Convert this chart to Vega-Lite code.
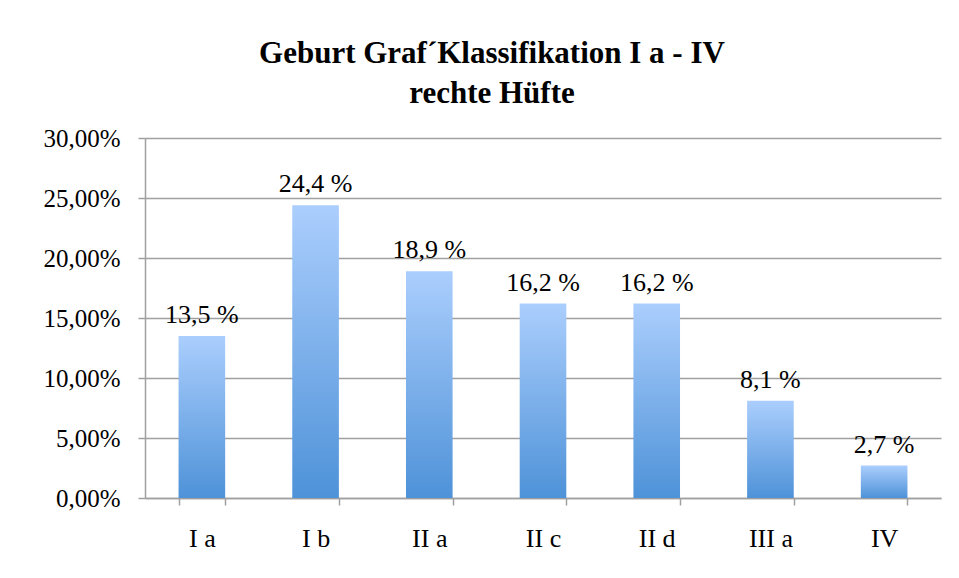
{
  "$schema": "https://vega.github.io/schema/vega-lite/v6.json",
  "width": 796,
  "height": 360,
  "autosize": {"type": "none"},
  "padding": {"left": 145, "top": 138, "right": 18, "bottom": 80},
  "background": "white",
  "config": {
    "locale": {"number": {"decimal": ",", "thousands": ".", "grouping": [3], "currency": ["", " €"]}},
    "font": "Liberation Serif",
    "view": {"stroke": null}
  },
  "title": {
    "text": ["Geburt Graf´Klassifikation I a - IV", "rechte Hüfte"],
    "font": "Liberation Serif",
    "fontSize": 31,
    "fontWeight": "bold",
    "color": "black",
    "lineHeight": 40,
    "anchor": "middle",
    "frame": "bounds",
    "offset": 16
  },
  "data": {
    "values": [
      {"klasse": "I a", "anteil": 0.135, "label": "13,5 %"},
      {"klasse": "I b", "anteil": 0.244, "label": "24,4 %"},
      {"klasse": "II a", "anteil": 0.189, "label": "18,9 %"},
      {"klasse": "II c", "anteil": 0.162, "label": "16,2 %"},
      {"klasse": "II d", "anteil": 0.162, "label": "16,2 %"},
      {"klasse": "III a", "anteil": 0.081, "label": "8,1 %"},
      {"klasse": "IV", "anteil": 0.027, "label": "2,7 %"}
    ]
  },
  "encoding": {
    "x": {
      "field": "klasse",
      "type": "nominal",
      "sort": null,
      "scale": {"paddingInner": 0.59, "paddingOuter": 0.295},
      "axis": {
        "title": null,
        "labelAngle": 0,
        "labelFont": "Liberation Serif",
        "labelFontSize": 26,
        "labelColor": "black",
        "labelPadding": 20,
        "domainColor": "#a0a0a0",
        "domainWidth": 1.5,
        "tickColor": "#a0a0a0",
        "tickWidth": 1.5,
        "tickSize": 7,
        "tickBand": "extent",
        "grid": false
      }
    },
    "y": {
      "field": "anteil",
      "type": "quantitative",
      "scale": {"domain": [0, 0.3], "nice": false},
      "axis": {
        "title": null,
        "format": ".2%",
        "values": [0, 0.05, 0.1, 0.15, 0.2, 0.25, 0.3],
        "labelFont": "Liberation Serif",
        "labelFontSize": 25,
        "labelColor": "black",
        "labelPadding": 18,
        "domainColor": "#a0a0a0",
        "domainWidth": 1.5,
        "tickColor": "#a0a0a0",
        "tickWidth": 1.5,
        "tickSize": 7,
        "gridColor": "#a0a0a0",
        "gridWidth": 1.5
      }
    }
  },
  "layer": [
    {
      "mark": {
        "type": "bar",
        "color": {
          "gradient": "linear",
          "x1": 0, "y1": 0, "x2": 0, "y2": 1,
          "stops": [
            {"offset": 0, "color": "#abcefd"},
            {"offset": 1, "color": "#4e92d8"}
          ]
        }
      }
    },
    {
      "mark": {"type": "text", "baseline": "bottom", "dy": -8, "fontSize": 26, "font": "Liberation Serif", "color": "black"},
      "encoding": {"text": {"field": "label"}}
    }
  ]
}
